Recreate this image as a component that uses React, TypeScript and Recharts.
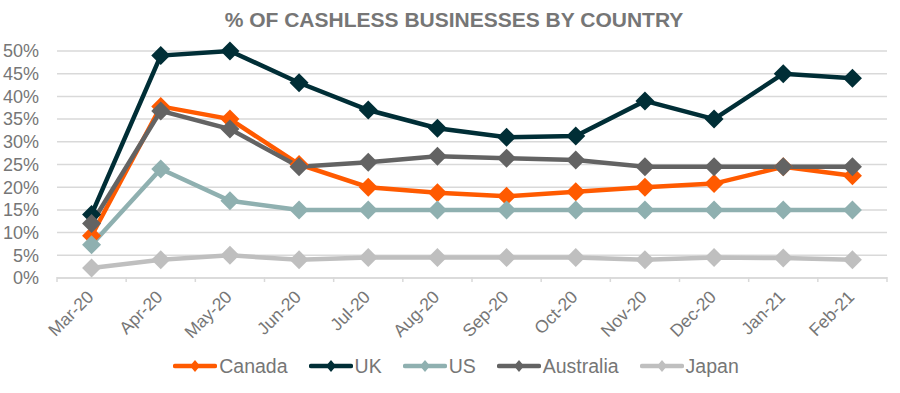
import React from 'react';
import { LineChart, Line, XAxis, YAxis, CartesianGrid, Legend } from 'recharts';

const months = ['Mar-20', 'Apr-20', 'May-20', 'Jun-20', 'Jul-20', 'Aug-20', 'Sep-20', 'Oct-20', 'Nov-20', 'Dec-20', 'Jan-21', 'Feb-21'];
const canada = [9.3, 37.8, 35, 25, 20, 18.8, 18, 19, 20, 20.8, 24.5, 22.5];
const uk = [14, 49, 50, 43, 37, 33, 31, 31.3, 39, 35, 45, 44];
const us = [7.3, 24, 17, 15, 15, 15, 15, 15, 15, 15, 15, 15];
const australia = [12, 36.8, 32.8, 24.5, 25.5, 26.8, 26.4, 26, 24.5, 24.5, 24.5, 24.5];
const japan = [2.2, 4, 5, 4, 4.5, 4.5, 4.5, 4.5, 4, 4.5, 4.4, 4];
const yTicks = [0, 5, 10, 15, 20, 25, 30, 35, 40, 45, 50];

const series = [
  { key: 'Canada', values: canada, color: '#FF5A00' },
  { key: 'UK', values: uk, color: '#002E36' },
  { key: 'US', values: us, color: '#8FB0B0' },
  { key: 'Australia', values: australia, color: '#636363' },
  { key: 'Japan', values: japan, color: '#BFBFBF' },
];

const data = months.map((m, i) => {
  const row: any = { month: m };
  series.forEach((s) => { row[s.key] = s.values[i]; });
  return row;
});

const FONT = '"Liberation Sans", Arial, sans-serif';
const BAND = (887 - 57) / months.length;

const Diamond = (props: any) => {
  const { cx, cy, fill } = props;
  if (cx == null || cy == null) return null;
  const r = 9.5;
  return <path d={`M${cx},${cy - r}L${cx + r},${cy}L${cx},${cy + r}L${cx - r},${cy}Z`} fill={fill} />;
};

const XTick = (props: any) => {
  const { x, payload, index } = props;
  const last = index === months.length - 1;
  const ay = 277;
  const tx = x + 3;
  const ty = ay + 21;
  return (
    <g>
      <line x1={x - BAND / 2} x2={x - BAND / 2} y1={ay} y2={ay + 5} stroke="#D9D9D9" strokeWidth={1.5} />
      {last && <line x1={x + BAND / 2} x2={x + BAND / 2} y1={ay} y2={ay + 5} stroke="#D9D9D9" strokeWidth={1.5} />}
      <text x={tx} y={ty} transform={`rotate(-45, ${tx}, ${ty})`} textAnchor="end" fontSize={17.5} fill="#767676" fontFamily={FONT}>
        {payload.value}
      </text>
    </g>
  );
};

const LegendContent = () => (
  <div style={{ display: 'flex', justifyContent: 'center', alignItems: 'center', fontFamily: FONT, fontSize: 19.5, color: '#767676', height: 30, marginLeft: 46 }}>
    {series.map((s) => (
      <div key={s.key} style={{ display: 'flex', alignItems: 'center', marginRight: 21 }}>
        <svg width={44} height={14} style={{ marginRight: 2 }}>
          <line x1={2} x2={42} y1={7} y2={7} stroke={s.color} strokeWidth={4.5} strokeLinecap="round" />
          <path d="M22,1L27,7L22,13L17,7Z" fill={s.color} />
        </svg>
        <span>{s.key}</span>
      </div>
    ))}
  </div>
);

export default function App() {
  return (
    <div style={{ position: 'absolute', left: 0, top: 0, width: 900, height: 393, background: '#fff' }}>
      <div style={{ position: 'absolute', left: 0, top: 7, width: 908, textAlign: 'center', fontFamily: FONT, fontWeight: 'bold', fontSize: 21, lineHeight: '26px', color: '#767676' }}>
        % OF CASHLESS BUSINESSES BY COUNTRY
      </div>
      <LineChart width={900} height={393} data={data} margin={{ top: 51, right: 13, bottom: 12, left: 0 }}>
        <CartesianGrid horizontal vertical={false} stroke="#D9D9D9" strokeWidth={1.5} />
        <XAxis
          dataKey="month"
          interval={0}
          height={73}
          padding={{ left: BAND / 2, right: BAND / 2 }}
          tickLine={false}
          axisLine={{ stroke: '#D9D9D9', strokeWidth: 1.5 }}
          tick={<XTick />}
        />
        <YAxis
          width={57}
          domain={[0, 50]}
          ticks={yTicks}
          interval={0}
          tickFormatter={(v: number) => `${v}%`}
          axisLine={false}
          tickLine={false}
          tickMargin={12}
          tick={{ fontSize: 18, fill: '#767676', fontFamily: FONT }}
        />
        <Legend verticalAlign="bottom" height={30} content={<LegendContent />} />
        {series.map((s) => (
          <Line
            key={s.key}
            dataKey={s.key}
            type="linear"
            stroke={s.color}
            strokeWidth={4.5}
            dot={<Diamond fill={s.color} />}
            activeDot={false}
            isAnimationActive={false}
          />
        ))}
      </LineChart>
    </div>
  );
}
